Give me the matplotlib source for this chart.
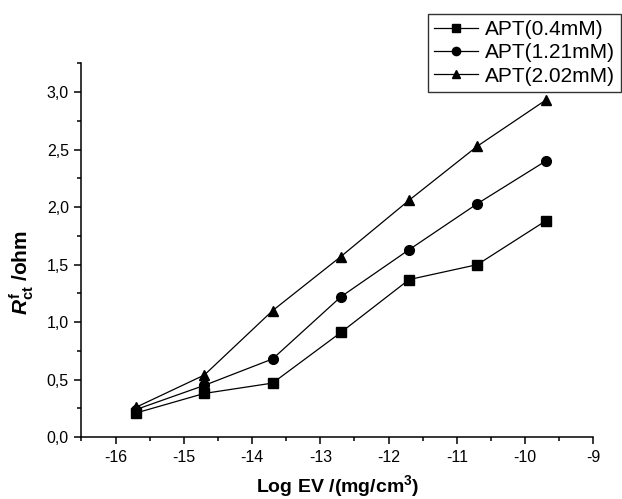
import matplotlib
matplotlib.use("Agg")

import matplotlib.pyplot as plt
from matplotlib.ticker import MultipleLocator, FuncFormatter

plt.rcParams["font.family"] = ["Liberation Sans", "DejaVu Sans"]
plt.rcParams["mathtext.fontset"] = "custom"
plt.rcParams["mathtext.rm"] = "Liberation Sans:bold"
plt.rcParams["mathtext.it"] = "Liberation Sans:italic:bold"
plt.rcParams["mathtext.bf"] = "Liberation Sans:bold"

# Data
log_ev = [-15.7, -14.7, -13.7, -12.7, -11.7, -10.7, -9.7]
apt_04 = [0.21, 0.38, 0.47, 0.91, 1.37, 1.50, 1.88]
apt_121 = [0.24, 0.45, 0.68, 1.22, 1.63, 2.03, 2.40]
apt_202 = [0.26, 0.54, 1.10, 1.57, 2.06, 2.53, 2.93]
labels = ["APT(0.4mM)", "APT(1.21mM)", "APT(2.02mM)"]

fig = plt.figure(figsize=(6.22, 4.99), dpi=100)
ax = fig.add_axes([0.131, 0.124, 0.823, 0.749])

ms = 6.5
ax.plot(log_ev, apt_04, "s-", color="black", lw=0.9, ms=ms, label=labels[0])
ax.plot(log_ev, apt_121, "o-", color="black", lw=0.9, ms=ms + 0.5, label=labels[1])
ax.plot(log_ev, apt_202, "^-", color="black", lw=0.9, ms=ms + 1, label=labels[2])

ax.set_xlim(-16.5, -9)
ax.set_ylim(0, 3.25)
ax.xaxis.set_major_locator(MultipleLocator(1))
ax.xaxis.set_minor_locator(MultipleLocator(0.5))
ax.yaxis.set_major_locator(MultipleLocator(0.5))
ax.yaxis.set_minor_locator(MultipleLocator(0.25))
ax.yaxis.set_major_formatter(FuncFormatter(lambda v, p: f"{v:.1f}".replace(".", ",")))
ax.xaxis.set_major_formatter(FuncFormatter(lambda v, p: f"{v:.0f}"))

for s in ["top", "right"]:
    ax.spines[s].set_visible(False)
for s in ["left", "bottom"]:
    ax.spines[s].set_linewidth(1.1)

ax.tick_params(which="major", direction="out", length=5, width=1.1, labelsize=11.5, pad=4)
ax.tick_params(which="minor", direction="out", length=3, width=1.1)

ax.set_xlabel(r"Log EV /(mg/cm$^{3}$)", fontsize=14, fontweight="bold", labelpad=6)
ax.set_ylabel(r"$R^{\mathrm{f}}_{\mathrm{ct}}$ /ohm", fontsize=15, fontweight="bold")
ax.yaxis.set_label_coords(-0.088, 0.44)

leg = ax.legend(loc="upper left", bbox_to_anchor=(0.688, 0.972),
                bbox_transform=fig.transFigure, borderaxespad=0,
                fontsize=15, frameon=True, fancybox=False, shadow=False,
                handlelength=2.1, handletextpad=0.35, labelspacing=0.2,
                borderpad=0.3, markerscale=0.85)
leg.get_frame().set_edgecolor("black")
leg.get_frame().set_linewidth(1.0)

fig.savefig("out.png", dpi=100)
